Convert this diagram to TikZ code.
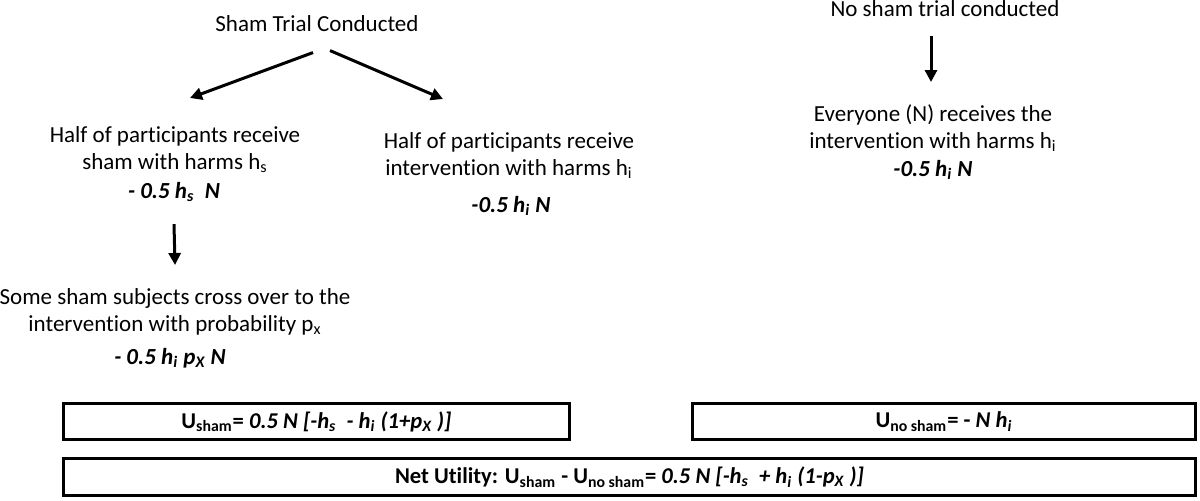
\documentclass[tikz,border=0pt]{standalone}
\usepackage{fontspec}
\setmainfont{Carlito}[Ligatures=NoCommon]
\usetikzlibrary{arrows.meta}

\begin{document}
\begin{tikzpicture}[x=0.5pt,y=-0.5pt,
  txt/.style={align=center,inner sep=0pt,font=\fontsize{11.5}{13.5}\selectfont},
  val/.style={inner sep=0pt,anchor=base,font=\fontsize{11.5}{13.5}\selectfont\bfseries\itshape},
  arr/.style={line width=1.5pt,-{Triangle[length=6pt,width=6pt]}},
  ubox/.style={draw,line width=1.4pt,inner sep=0pt,minimum height=18pt,font=\fontsize{11.3}{13.5}\selectfont\bfseries}]
  \useasboundingbox (0,0) rectangle (1200,500);
  % sham trial
  \node[txt,anchor=base] (title) at (317,31) {Sham Trial Conducted};
  \node[txt,anchor=north] (shamtxt) at (175,126) {Half of participants receive\\sham with harms h\textsubscript{s}};
  \node[val] (shamval) at (174,198) {- 0.5 h\textsubscript{s}~~N};
  \node[txt,anchor=north] (crosstxt) at (175,288) {Some sham subjects cross over to the\\intervention with probability p\textsubscript{x}};
  \node[val] (crossval) at (170,364) {- 0.5 h\textsubscript{i} p\textsubscript{X} N};
  \node[txt,anchor=north] (inttxt) at (509,132) {Half of participants receive\\intervention with harms h\textsubscript{i}};
  \node[val] (intval) at (511,212) {-0.5 h\textsubscript{i} N};
  \draw[arr] ([xshift=-2pt,yshift=-10.5pt]title.south) -- ([xshift=7.5pt,yshift=14pt]shamtxt.north);
  \draw[arr] ([xshift=6.5pt,yshift=-9.5pt]title.south) -- ([xshift=-33pt,yshift=16.5pt]inttxt.north);
  \draw[arr] ([yshift=-11pt]shamval.south) -- ([yshift=11.5pt]crosstxt.north);
  % no sham trial
  \node[txt,anchor=base] (nosham) at (945,16) {No sham trial conducted};
  \node[txt,anchor=north] (everytxt) at (933,104) {Everyone (N) receives the\\intervention with harms h\textsubscript{i}};
  \node[val] (everyval) at (933,176) {-0.5 h\textsubscript{i} N};
  \draw[arr] ([xshift=-7pt,yshift=-9.5pt]nosham.south) -- ([xshift=-1pt,yshift=11pt]everytxt.north);
  % utilities
  \node[ubox,minimum width=253pt] (ushambox) at (316.5,421.5) {U\textsubscript{sham}= \textit{0.5 N [-h\textsubscript{s}~~- h\textsubscript{i} (1+p\textsubscript{X} )]}};
  \node[ubox,minimum width=251.6pt] (unoshambox) at (944,421.5) {U\textsubscript{no sham}= - \textit{N h\textsubscript{i}}};
  \node[ubox,minimum width=566pt,minimum height=18.6pt] (netbox) at (629.5,477) {Net Utility: U\textsubscript{sham} - U\textsubscript{no sham}= \textit{0.5 N [-h\textsubscript{s}~~+ h\textsubscript{i} (1-p\textsubscript{X} )]}};
\end{tikzpicture}
\end{document}
